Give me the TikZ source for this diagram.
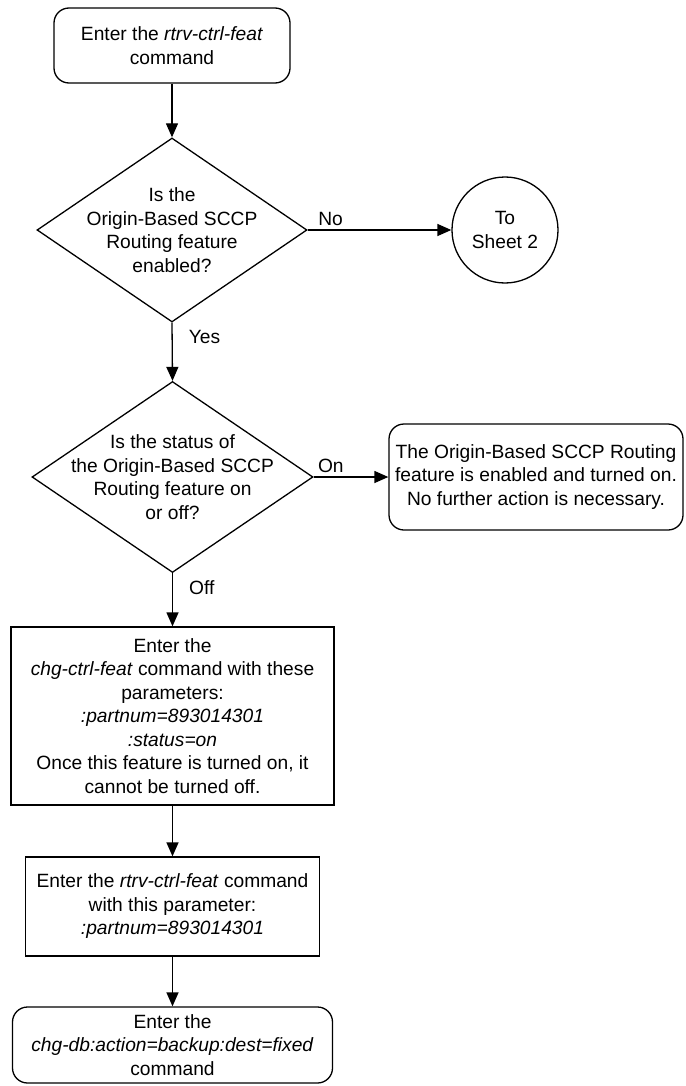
\documentclass[tikz,border=0pt]{standalone}
\usepackage{fontspec}
\setmainfont{Liberation Sans}
\usepackage{tikz}
\usetikzlibrary{arrows.meta,positioning,shapes.geometric,calc}

\tikzset{
  flowline/.style={line width=1.3pt, -{Triangle[length=14pt,width=12pt]}},
  cmdbox/.style={draw, line width=1.3pt, rounded corners=15pt, align=center, inner sep=0pt},
  stepbox/.style={draw, line width=1.3pt, align=center, inner sep=0pt},
  decision/.style={draw, line width=1.3pt, diamond, inner sep=0pt},
  sheetlink/.style={draw, line width=1.3pt, circle, align=center, inner sep=0pt, minimum size=106pt},
  branch/.style={font=\fontsize{19.2}{23.5}\selectfont, inner sep=2pt}
}

\begin{document}
\begin{tikzpicture}[x=1pt, y=-1pt, font=\fontsize{19.2}{23.5}\selectfont]
  \useasboundingbox (0,0) rectangle (685,1086);
  % Start
  \node[cmdbox, minimum width=236pt, minimum height=75pt] (start) at (172,45.5) {Enter the \textit{rtrv-ctrl-feat}\\command};
  % Is the feature enabled?
  \node[decision, minimum width=270pt, minimum height=184pt] (q1) at (172,230) {};
  \node[align=center] (q1txt) at (q1) {Is the\\Origin-Based SCCP\\Routing feature\\enabled?};
  \node[sheetlink] (sheet2) at (505,230) {To\\Sheet 2};
  % Is it on or off?
  \node[decision, minimum width=281pt, minimum height=191pt] (q2) at (172.5,477) {};
  \node[align=center] (q2txt) at (q2) {Is the status of\\the Origin-Based SCCP\\Routing feature on\\or off?};
  \node[cmdbox, minimum width=294pt, minimum height=106pt] (done) at (536,477) {The Origin-Based SCCP Routing\\feature is enabled and turned on.\\No further action is necessary.};
  % Turn on the feature
  \node[stepbox, minimum width=323pt, minimum height=178pt] (chgfeat) at (172.5,716) {Enter the\\\textit{chg-ctrl-feat} command with these\\parameters:\\\textit{:partnum=893014301}\\\textit{:status=on}\\Once this feature is turned on, it\\cannot be turned off.};
  \node[stepbox, minimum width=294pt, minimum height=99pt] (rtrvfeat) at (172.5,906.5) {Enter the \textit{rtrv-ctrl-feat} command\\with this parameter:\\\textit{:partnum=893014301}};
  % Backup
  \node[cmdbox, minimum width=320pt, minimum height=76pt] (backup) at (172.5,1045) {Enter the\\\textit{chg-db:action=backup:dest=fixed}\\command};
  % Connectors
  \draw[flowline] (start) -- (q1);
  \draw[flowline] (q1.east) -- node[branch, anchor=south, pos=0.16, yshift=2pt] (lno) {No} (sheet2.west);
  \draw[flowline] (q1.south) -- node[branch, anchor=west, pos=0.25, xshift=14pt] (lyes) {Yes} (q2.north);
  \draw[flowline] (q2.east) -- node[branch, anchor=south, pos=0.23, yshift=2pt] (lon) {On} (done.west);
  \draw[flowline] (q2.south) -- node[branch, anchor=west, pos=0.27, xshift=14pt] (loff) {Off} (chgfeat.north);
  \draw[flowline] (chgfeat) -- (rtrvfeat);
  \draw[flowline] (rtrvfeat) -- (backup);
\end{tikzpicture}
\end{document}
